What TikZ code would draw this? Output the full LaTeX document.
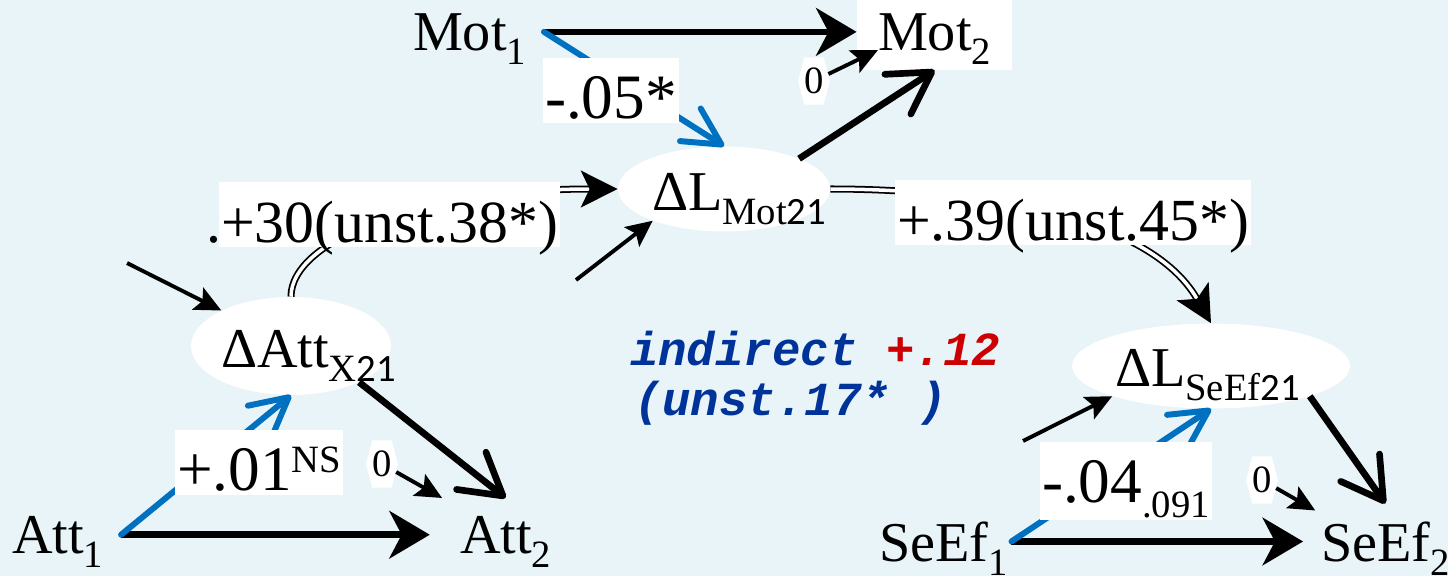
\documentclass[tikz,border=0pt]{standalone}
\usepackage{fontspec}
\setmainfont{Liberation Serif}
\newfontfamily\digitfont{Carlito}
\newfontfamily\codefont{Liberation Mono}
\usepackage{xcolor}
\usetikzlibrary{arrows.meta, shapes.geometric, shapes.symbols}
\definecolor{slideBg}{RGB}{232,244,248}
\definecolor{pathBlue}{RGB}{0,112,192}
\definecolor{noteBlue}{RGB}{0,51,153}
\definecolor{noteRed}{RGB}{204,0,0}
\newcommand{\subtxt}[1]{\raisebox{-8pt}[0pt][0pt]{\fontsize{22}{22}\selectfont #1}}
\tikzset{
  obs/.style={anchor=text, inner sep=10pt, font=\fontsize{32}{36}\selectfont},
  latent/.style={ellipse, fill=white, inner sep=0pt},
  zero/.style={signal, signal to=west and east, signal pointer angle=150, fill=white, inner xsep=0pt, inner ysep=6pt, font=\fontsize{22}{22}\selectfont},
  coef/.style={anchor=text, fill=white, inner xsep=1pt, inner ysep=0pt, text height=34pt, text depth=3pt, font=\fontsize{36}{40}\selectfont},
  mainarr/.style={line width=3.8pt, -{Stealth[length=23pt, width=27pt, inset=7pt]}},
  barbarr/.style={line width=3.8pt, -{Straight Barb[round, length=23pt, width=27pt]}},
  bluearr/.style={pathBlue, line width=3.4pt, line cap=round, -{Straight Barb[round, length=21pt, width=22pt]}},
  thinarr/.style={line width=2.2pt, -{Stealth[length=15pt, width=14pt, inset=3pt]}},
  dblarr/.style={double, double distance=2pt, line width=1pt, -{Stealth[length=21pt, width=21pt, inset=5pt]}},
  note/.style={anchor=text, inner sep=0pt, text=noteBlue, font=\codefont\bfseries\itshape\fontsize{27}{30}\selectfont}
}
\begin{document}
\begin{tikzpicture}[x=0.02cm, y=-0.02cm]
% Slide background
\useasboundingbox (0,0) rectangle (1448,576);
\fill[slideBg] (0,0) rectangle (1448,576);

% Change scores
\node[latent, minimum width=4.24cm, minimum height=1.7cm] (lmot) at (724,189) {};
\node[latent, minimum width=4cm, minimum height=1.96cm] (latt) at (291,346) {};
\node[latent, minimum width=5.56cm, minimum height=1.7cm] (lseef) at (1211,366) {};
\node[obs] (tmot) at (652,210) {ΔL\subtxt{Mot{\digitfont 21}}};
\node[obs] (tatt) at (221,367) {ΔAtt\subtxt{X{\digitfont 21}}};
\node[obs] (tseef) at (1115,386) {ΔL\subtxt{SeEf{\digitfont 21}}};

% Measured variables
\node[obs] (mot1) at (413,50) {Mot\subtxt{1}};
\node[obs, fill=white, inner xsep=12pt, inner ysep=11pt] (mot2) at (878,50) {Mot\subtxt{2}};
\node[obs] (att1) at (12,553) {Att\subtxt{1}};
\node[obs] (att2) at (460,553) {Att\subtxt{2}};
\node[obs, inner xsep=2pt] (seef1) at (879,561) {SeEf\subtxt{1}};
\node[obs] (seef2) at (1321,561) {SeEf\subtxt{2}};

% Fixed residuals and disturbances
\node[zero] (z1) at (814,81) {0};
\node[zero] (z2) at (382,464) {0};
\node[zero] (z3) at (1262,480) {0};
\coordinate (d1) at (127,263);
\coordinate (d2) at (576,280);
\coordinate (d3) at (1023,441);

% Paths
\draw[mainarr] (mot1) -- (mot2);
\draw[bluearr] (mot1.east) -- (lmot.north);
\draw[barbarr] (lmot.22) -- (mot2.south);
\draw[thinarr] (z1) -- (mot2.text);
\draw[thinarr] (d2) -- (lmot.204);
\draw[mainarr, shorten >=7pt] (att1) -- (att2);
\draw[bluearr] (att1.east) -- (latt.south);
\draw[barbarr] (latt.-28) -- (att2.north);
\draw[thinarr] (z2) -- (att2.north west);
\draw[thinarr] (d1) -- (latt.153);
\draw[mainarr] (seef1) -- (seef2);
\draw[bluearr] (seef1.east) -- (lseef.south);
\draw[barbarr] (lseef.-17) -- (seef2.north);
\draw[thinarr, shorten >=-8pt] (z3) -- (seef2.north west);
\draw[thinarr] (d3) -- (lseef.197);
\draw[dblarr] (latt.north) .. controls +(0,-57) and +(-197,0) .. (lmot.west);
\draw[dblarr] (lmot.east) .. controls +(130,0) and +(-65,-113) .. (lseef.north);

% Coefficients
\node[coef] (kmot) at (545,118) {-.05*};
\node[coef] (katt) at (177,490) {+.01\raisebox{10pt}{\fontsize{22}{22}\selectfont NS}};
\node[coef, text depth=10pt] (kseef) at (1042,502) {-.04\raisebox{-9pt}{\fontsize{22}{22}\selectfont .091}};
\node[coef, font=\fontsize{34}{38}\selectfont] (klat) at (221,242) {\llap{.}+30(unst.38*)};
\node[coef, font=\fontsize{34}{38}\selectfont] (kls) at (897,240) {+.39(unst.45*)};

% Indirect effect
\node[note] (ind1) at (630,365) {indirect \textcolor{noteRed}{+.12}};
\node[note] (ind2) at (634,415) {(unst.17* )};
\end{tikzpicture}
\end{document}
